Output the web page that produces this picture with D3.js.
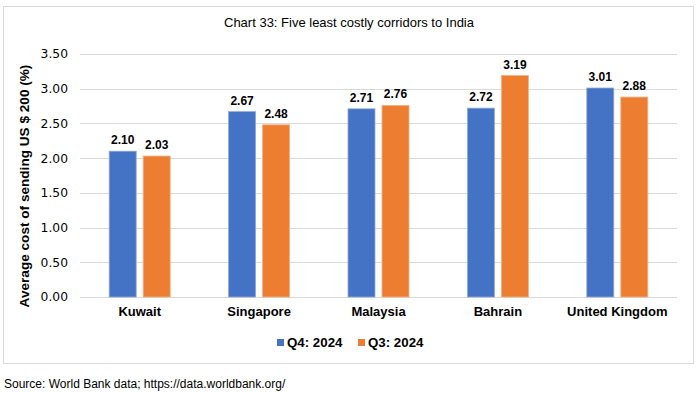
<!DOCTYPE html>
<html><head><meta charset="utf-8">
<script src="https://cdn.jsdelivr.net/npm/d3@7"></script>
<style>body{margin:0;background:#fff;}svg{display:block;font-family:"Liberation Sans",Arial,sans-serif;}</style>
</head><body>
<script>
const categories = ["Kuwait","Singapore","Malaysia","Bahrain","United Kingdom"];
const seriesNames = ["Q4: 2024","Q3: 2024"];
const q4 = [2.10,2.67,2.71,2.72,3.01];
const q3 = [2.03,2.48,2.76,3.19,2.88];
const yTicks = [0,0.5,1,1.5,2,2.5,3,3.5];
const colors = ["#4472C4","#ED7D31"];
const title = "Chart 33: Five least costly corridors to India";
const yTitle = "Average cost of sending US $ 200 (%)";
const source = "Source: World Bank data; https://data.worldbank.org/";

const W=698,H=393;
const svg=d3.select("body").append("svg").attr("width",W).attr("height",H);
svg.append("rect").attr("x",3.5).attr("y",6.5).attr("width",690).attr("height",357).attr("fill","#fff").attr("stroke","#d9d9d9");

const x=d3.scaleBand().domain(categories).range([80,677]);
const y=d3.scaleLinear().domain([0,3.5]).range([297,54]);

const grid=svg.append("g");
grid.selectAll("line").data(yTicks).join("line")
 .attr("x1",80).attr("x2",677).attr("y1",d=>Math.round(y(d))+0.5).attr("y2",d=>Math.round(y(d))+0.5)
 .attr("stroke","#d9d9d9").attr("stroke-width",1);

const yAxis=d3.axisLeft(y).tickValues(yTicks).tickFormat(d3.format(".2f")).tickSize(0).tickPadding(12);
const ga=svg.append("g").attr("transform","translate(80,0)").call(yAxis);
ga.select(".domain").remove();
ga.selectAll("text").attr("font-family","Tahoma,'DejaVu Sans',sans-serif").attr("font-size",12.3).attr("fill","#000");

const xAxis=d3.axisBottom(x).tickSize(0).tickPadding(10);
const gx=svg.append("g").attr("transform","translate(0,297)").call(xAxis);
gx.select(".domain").remove();
gx.selectAll("text").attr("font-size",13).attr("font-weight","bold").attr("fill","#000");

const data=categories.map((c,i)=>({c,vals:[q4[i],q3[i]]}));
const bw=27, gap=7;
const g=svg.append("g");
data.forEach(d=>{
  d.vals.forEach((v,j)=>{
    const cx=x(d.c)+x.bandwidth()/2;
    const bx=j===0?cx-gap/2-bw:cx+gap/2;
    g.append("rect").attr("x",bx).attr("y",y(v)).attr("width",bw).attr("height",y(0)-y(v))
      .attr("fill",colors[j]).attr("stroke",j===0?"#8faadc":"#f4b183").attr("stroke-width",0.8);
    g.append("text").attr("x",bx+bw/2).attr("y",y(v)-7).attr("text-anchor","middle")
      .attr("font-size",12).attr("font-weight","bold").text(d3.format(".2f")(v));
  });
});

svg.append("text").attr("x",349).attr("y",27).attr("text-anchor","middle").attr("font-size",13).text(title);
svg.append("text").attr("transform","translate(29,186) rotate(-90)").attr("text-anchor","middle")
 .attr("font-size",13.6).attr("font-weight","bold").text(yTitle);

const leg=svg.append("g");
const legX=[277,358];
seriesNames.forEach((s,i)=>{
  leg.append("rect").attr("x",legX[i]).attr("y",339).attr("width",7).attr("height",7).attr("fill",colors[i]);
  leg.append("text").attr("x",legX[i]+10).attr("y",347).attr("font-size",13.3).attr("font-weight","bold").text(s);
});

svg.append("text").attr("x",4).attr("y",388).attr("font-size",12).text(source);
</script>
</body></html>
